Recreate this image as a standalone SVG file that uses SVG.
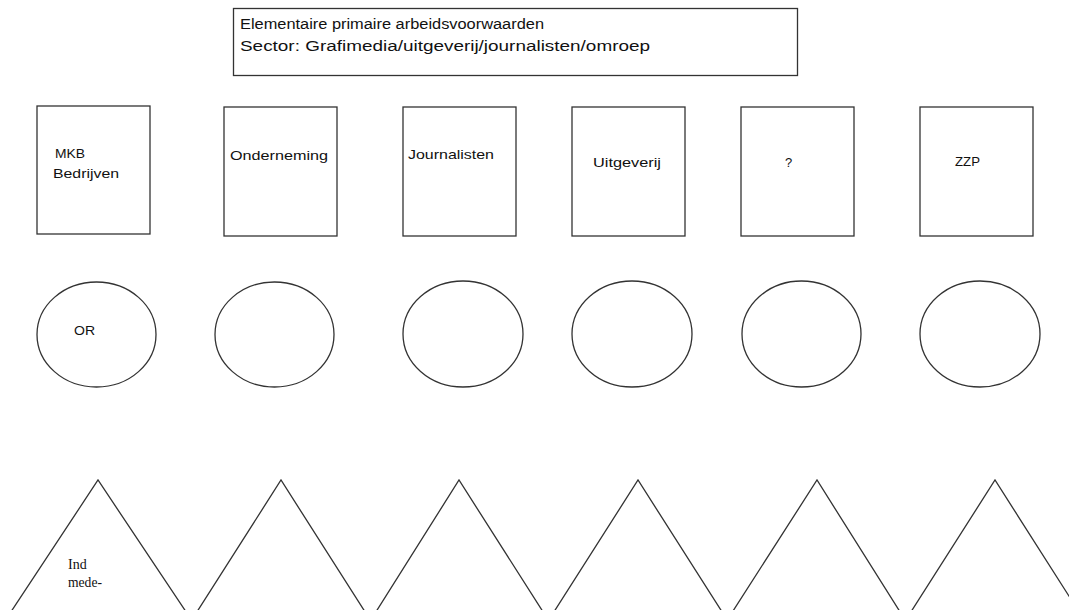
<svg xmlns="http://www.w3.org/2000/svg" width="1069" height="610" viewBox="0 0 1069 610">
<style>
.s{fill:#fff;stroke:#333;stroke-width:1.3}
.l{fill:none;stroke:#333;stroke-width:1.3}
.t{font-family:"Liberation Sans","DejaVu Sans",sans-serif;font-size:13px;fill:#111}
.h{font-family:"Liberation Sans","DejaVu Sans",sans-serif;font-size:14px;fill:#111}
.r{font-family:"Liberation Serif","Times New Roman",serif;font-size:14px;fill:#111}
</style>
<rect width="1069" height="610" fill="#fff"/>
<g id="title">
<rect class="s" x="233.5" y="8.5" width="564" height="67"/>
<text class="h" x="240" y="29" textLength="304" lengthAdjust="spacingAndGlyphs">Elementaire primaire arbeidsvoorwaarden</text>
<text class="h" x="240" y="51" textLength="410" lengthAdjust="spacingAndGlyphs">Sector: Grafimedia/uitgeverij/journalisten/omroep</text>
</g>
<g id="box-mkb">
<rect class="s" x="37" y="106" width="113" height="128"/>
<text class="t" x="55" y="158" textLength="30" lengthAdjust="spacingAndGlyphs">MKB</text>
<text class="t" x="53" y="178" textLength="66" lengthAdjust="spacingAndGlyphs">Bedrijven</text>
</g>
<g id="box-onderneming">
<rect class="s" x="224" y="107" width="113" height="129"/>
<text class="t" x="230" y="160" textLength="98" lengthAdjust="spacingAndGlyphs">Onderneming</text>
</g>
<g id="box-journalisten">
<rect class="s" x="403" y="107" width="113" height="129"/>
<text class="t" x="408" y="159" textLength="86" lengthAdjust="spacingAndGlyphs">Journalisten</text>
</g>
<g id="box-uitgeverij">
<rect class="s" x="572" y="107" width="113" height="129"/>
<text class="t" x="593" y="167" textLength="68" lengthAdjust="spacingAndGlyphs">Uitgeverij</text>
</g>
<g id="box-q">
<rect class="s" x="741" y="107" width="113" height="129"/>
<text class="t" x="785" y="167">?</text>
</g>
<g id="box-zzp">
<rect class="s" x="920" y="107" width="113" height="129"/>
<text class="t" x="955" y="166" textLength="25" lengthAdjust="spacingAndGlyphs">ZZP</text>
</g>
<g id="ellipse-or">
<ellipse class="s" cx="96.5" cy="334.5" rx="59.5" ry="52.5"/>
<text class="t" x="74" y="335" textLength="21" lengthAdjust="spacingAndGlyphs">OR</text>
</g>
<g id="ellipse-2"><ellipse class="s" cx="274.5" cy="334.5" rx="59.5" ry="52.5"/></g>
<g id="ellipse-3"><ellipse class="s" cx="463" cy="334" rx="60" ry="53"/></g>
<g id="ellipse-4"><ellipse class="s" cx="632" cy="334" rx="60" ry="53"/></g>
<g id="ellipse-5"><ellipse class="s" cx="801.5" cy="334" rx="59.5" ry="53"/></g>
<g id="ellipse-6"><ellipse class="s" cx="980" cy="334" rx="60" ry="53"/></g>
<g id="triangle-1">
<polyline class="l" points="11.5,611 98,480 185.5,611"/>
<text class="r" x="68" y="569">Ind</text>
<text class="r" x="68" y="587" textLength="34" lengthAdjust="spacingAndGlyphs">mede-</text>
</g>
<g id="triangle-2"><polyline class="l" points="197.5,611 281,480 364.5,611"/></g>
<g id="triangle-3"><polyline class="l" points="376.5,611 459,480 542.5,611"/></g>
<g id="triangle-4"><polyline class="l" points="554.5,611 638,480 721.5,611"/></g>
<g id="triangle-5"><polyline class="l" points="733,611 817,480 899.5,611"/></g>
<g id="triangle-6"><polyline class="l" points="911.5,611 995,480 1078.5,611"/></g>
<g id="connectors"></g>
</svg>
